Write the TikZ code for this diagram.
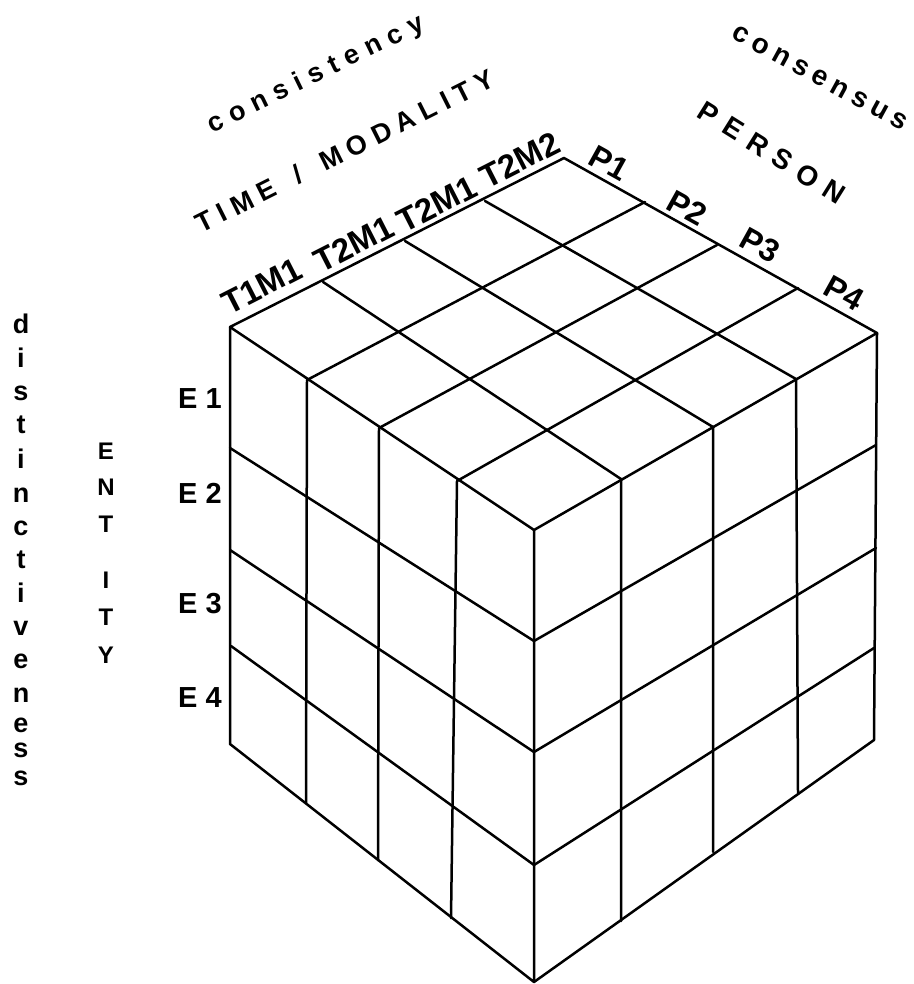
\documentclass[tikz,border=0pt]{standalone}
\usepackage{fontspec}
\setmainfont{Liberation Sans}
\makeatletter
\newcommand\spacedtxt[2]{\@tfor\spch:=#2\do{\spch\kern#1}\kern-#1\relax}
\makeatother
\begin{document}
\begin{tikzpicture}[x=1pt,y=-1pt,
  edge/.style={line width=2.5pt, line cap=round, line join=round},
  lbl/.style={inner sep=0pt, font=\bfseries}]
\useasboundingbox (0,0) rectangle (913,984);
% top face
\coordinate (L) at (230,327);
\coordinate (B) at (564,158);
\coordinate (R) at (877,333);
\coordinate (F) at (534,530);
\coordinate (LB1) at (323,282);
\coordinate (LB2) at (405,241);
\coordinate (LB3) at (485,201);
\coordinate (LF1) at (307,380);
\coordinate (LF2) at (379,428);
\coordinate (LF3) at (457,481);
\coordinate (BR1) at (645,202);
\coordinate (BR2) at (717,245);
\coordinate (BR3) at (798,288);
\coordinate (FR1) at (621,479);
\coordinate (FR2) at (713,427);
\coordinate (FR3) at (796,379);
% bottom
\coordinate (LD) at (230,744);
\coordinate (D) at (534,982);
\coordinate (RD) at (874,740);
\coordinate (LD1) at (306,803);
\coordinate (LD2) at (378,860);
\coordinate (LD3) at (451,918);
\coordinate (RD1) at (621,921);
\coordinate (RD2) at (713,852);
\coordinate (RD3) at (798,793);
% rows
\coordinate (LE1) at (230,448);
\coordinate (LE2) at (230,550);
\coordinate (LE3) at (231,646);
\coordinate (FE1) at (534,641);
\coordinate (FE2) at (534,752);
\coordinate (FE3) at (534,865);
\coordinate (RE1) at (876,445);
\coordinate (RE2) at (876,548);
\coordinate (RE3) at (874,648);

% top face
\draw[edge] (L) -- (B) -- (R) -- (F) -- cycle;
\draw[edge] (LF1) -- (BR1) (LF2) -- (BR2) (LF3) -- (BR3);
\draw[edge] (LB1) -- (FR1) (LB2) -- (FR2) (LB3) -- (FR3);
% left face
\draw[edge] (L) -- (LD) -- (D) -- (F);
\draw[edge] (LF1) -- (LD1) (LF2) -- (LD2) (LF3) -- (LD3);
\draw[edge] (LE1) -- (FE1) (LE2) -- (FE2) (LE3) -- (FE3);
% right face
\draw[edge] (R) -- (RD) -- (D);
\draw[edge] (FR1) -- (RD1) (FR2) -- (RD2) (FR3) -- (RD3);
\draw[edge] (FE1) -- (RE1) (FE2) -- (RE2) (FE3) -- (RE3);

% top-left labels
\node[lbl, rotate=26, font=\bfseries\fontsize{27}{30}\selectfont] (cons) at (316,75) {\spacedtxt{0.3em}{consistency}};
\node[lbl, rotate=26.6, font=\bfseries\fontsize{27}{30}\selectfont] (tm) at (345,151) {\spacedtxt{0.27em}{TIME\ /\ MODALITY}};
\tikzset{tlbl/.style={lbl, rotate=27, font=\bfseries\fontsize{33}{38}\selectfont}}
\node[tlbl] (t1) at (262,286) {T1M1};
\node[tlbl] (t2) at (354,244) {T2M1};
\node[tlbl] (t3) at (437,204) {T2M1};
\node[tlbl] (t4) at (520,160) {T2M2};
% top-right labels
\node[lbl, rotate=-28.6, font=\bfseries\fontsize{28}{30}\selectfont] (csn) at (820,78) {\spacedtxt{0.22em}{consensus}};
\node[lbl, rotate=-32, font=\bfseries\fontsize{28}{30}\selectfont] (per) at (772,153) {\spacedtxt{0.35em}{PERSON}};
\tikzset{plbl/.style={lbl, rotate=-29, font=\bfseries\fontsize{32}{36}\selectfont}}
\node[plbl] (p1) at (609,163) {P1};
\node[plbl] (p2) at (687,208) {P2};
\node[plbl] (p3) at (760,245) {P3};
\node[plbl] (p4) at (844,293) {P4};
% E labels
\tikzset{elbl/.style={lbl, anchor=base, font=\bfseries\fontsize{29}{32}\selectfont}}
\node[elbl] (e1) at (200,408) {E 1};
\node[elbl] (e2) at (200,503) {E 2};
\node[elbl] (e3) at (200,613) {E 3};
\node[elbl] (e4) at (200,707) {E 4};
% ENTITY
\tikzset{entl/.style={lbl, anchor=base, font=\bfseries\fontsize{24}{26}\selectfont}}
\node[entl] (en1) at (106,459) {E};
\node[entl] (en2) at (106,495) {N};
\node[entl] (en3) at (106,532) {T};
\node[entl] (en4) at (106,588) {I};
\node[entl] (en5) at (106,625) {T};
\node[entl] (en6) at (106,663) {Y};
% distinctiveness
\tikzset{dstl/.style={lbl, anchor=base, font=\bfseries\fontsize{27}{28}\selectfont}}
\node[dstl] (d1) at (21,333) {d};
\node[dstl] (d2) at (21,367) {i};
\node[dstl] (d3) at (21,400) {s};
\node[dstl] (d4) at (21,433) {t};
\node[dstl] (d5) at (21,468) {i};
\node[dstl] (d6) at (21,502) {n};
\node[dstl] (d7) at (21,535) {c};
\node[dstl] (d8) at (21,568) {t};
\node[dstl] (d9) at (21,602) {i};
\node[dstl] (d10) at (21,635) {v};
\node[dstl] (d11) at (21,668) {e};
\node[dstl] (d12) at (21,702) {n};
\node[dstl] (d13) at (21,732) {e};
\node[dstl] (d14) at (21,757) {s};
\node[dstl] (d15) at (21,785) {s};
\end{tikzpicture}
\end{document}
